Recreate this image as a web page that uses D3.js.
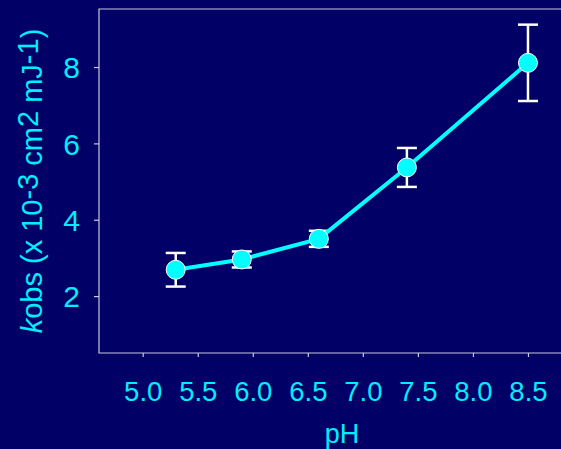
<!DOCTYPE html>
<html>
<head>
<meta charset="utf-8">
<script src="https://cdn.jsdelivr.net/npm/d3@7"></script>
<style>
  html, body { margin: 0; padding: 0; background: #000066; }
  svg { display: block; }
</style>
</head>
<body>
<div id="chart"></div>
<script>
// pH series, rate constants and error bars
const phValues = [5.3, 5.9, 6.6, 7.4, 8.5];
const kobs = [2.69, 2.96, 3.50, 5.37, 8.11];
const kobsErr = [0.44, 0.21, 0.21, 0.51, 1.0];
const xTicks = [5.0, 5.5, 6.0, 6.5, 7.0, 7.5, 8.0, 8.5];
const yTicks = [2, 4, 6, 8];

const width = 561, height = 449;
const margins = { left: 99, right: 0, top: 9, bottom: 96 };

const svg = d3.select('#chart').append('svg')
	.attr('width', width)
	.attr('height', height)
	.style('font-family', 'Liberation Sans, Arial, sans-serif');

svg.append('rect')
	.attr('width', width).attr('height', height)
	.attr('fill', '#000066');

const x = d3.scaleLinear()
	.domain([4.603, 8.8])
	.range([margins.left, width - margins.right]);

const y = d3.scaleLinear()
	.domain([0.51, 9.52])
	.range([height - margins.bottom, margins.top]);

const axisColor = '#c8c8e0';
const textColor = '#00eeff';

// frame lines (left, top, bottom)
svg.append('path')
	.attr('d', 'M' + width + ',' + y.range()[1] + 'H' + x.range()[0] + 'V' + y.range()[0] + 'H' + width)
	.attr('fill', 'none')
	.attr('stroke', axisColor)
	.attr('stroke-width', 1.2);

const xAxis = svg.append('g')
	.attr('transform', 'translate(0,' + y.range()[0] + ')')
	.call(d3.axisBottom(x).tickValues(xTicks).tickSize(4).tickPadding(24).tickFormat(d3.format('.1f')));

const yAxis = svg.append('g')
	.attr('transform', 'translate(' + x.range()[0] + ',0)')
	.call(d3.axisLeft(y).tickValues(yTicks).tickSize(5).tickPadding(14));

[xAxis, yAxis].forEach(function (g) {
	g.select('.domain').remove();
	g.selectAll('.tick line').attr('stroke', axisColor).attr('stroke-width', 1.2);
	g.selectAll('.tick text')
		.attr('fill', textColor)
		.style('font-family', 'Liberation Sans, Arial, sans-serif');
});
xAxis.selectAll('.tick text').style('font-size', '27.5px');
yAxis.selectAll('.tick text').style('font-size', '30px').attr('dy', '0.36em');

// axis titles
svg.append('text')
	.attr('x', 342)
	.attr('y', 443)
	.attr('text-anchor', 'middle')
	.attr('fill', textColor)
	.style('font-size', '27px')
	.text('pH');

const yTitle = svg.append('text')
	.attr('transform', 'translate(42,181) rotate(-90)')
	.attr('text-anchor', 'middle')
	.attr('fill', textColor)
	.style('font-size', '29px');
yTitle.append('tspan').style('font-style', 'italic').text('k');
yTitle.append('tspan').text('obs (x 10');
yTitle.append('tspan').attr('dy', -4).text('-3');
yTitle.append('tspan').attr('dy', 4).text(' cm');
yTitle.append('tspan').attr('dy', -4).text('2');
yTitle.append('tspan').attr('dy', 4).text(' mJ');
yTitle.append('tspan').attr('dy', -4).text('-1');
yTitle.append('tspan').attr('dy', 4).text(')');

const data = phValues.map(function (p, i) {
	return { ph: p, k: kobs[i], err: kobsErr[i] };
});

// error bars
const bars = svg.append('g').selectAll('g').data(data).enter().append('g')
	.attr('stroke', '#ffffff')
	.attr('stroke-width', 2.5);
bars.append('line')
	.attr('x1', d => x(d.ph)).attr('x2', d => x(d.ph))
	.attr('y1', d => y(d.k - d.err)).attr('y2', d => y(d.k + d.err));
bars.append('line')
	.attr('x1', d => x(d.ph) - 10).attr('x2', d => x(d.ph) + 10)
	.attr('y1', d => y(d.k + d.err)).attr('y2', d => y(d.k + d.err));
bars.append('line')
	.attr('x1', d => x(d.ph) - 10).attr('x2', d => x(d.ph) + 10)
	.attr('y1', d => y(d.k - d.err)).attr('y2', d => y(d.k - d.err));

// connecting line
const lineFn = d3.line()
	.x(d => x(d.ph))
	.y(d => y(d.k));

svg.append('path')
	.datum(data)
	.attr('d', lineFn)
	.attr('fill', 'none')
	.attr('stroke', '#00ffff')
	.attr('stroke-width', 4);

svg.append('g').selectAll('circle').data(data).enter().append('circle')
	.attr('cx', d => x(d.ph))
	.attr('cy', d => y(d.k))
	.attr('r', 9.5)
	.attr('fill', '#00ffff')
	.attr('stroke', '#ffffff')
	.attr('stroke-width', 1);
</script>
</body>
</html>
